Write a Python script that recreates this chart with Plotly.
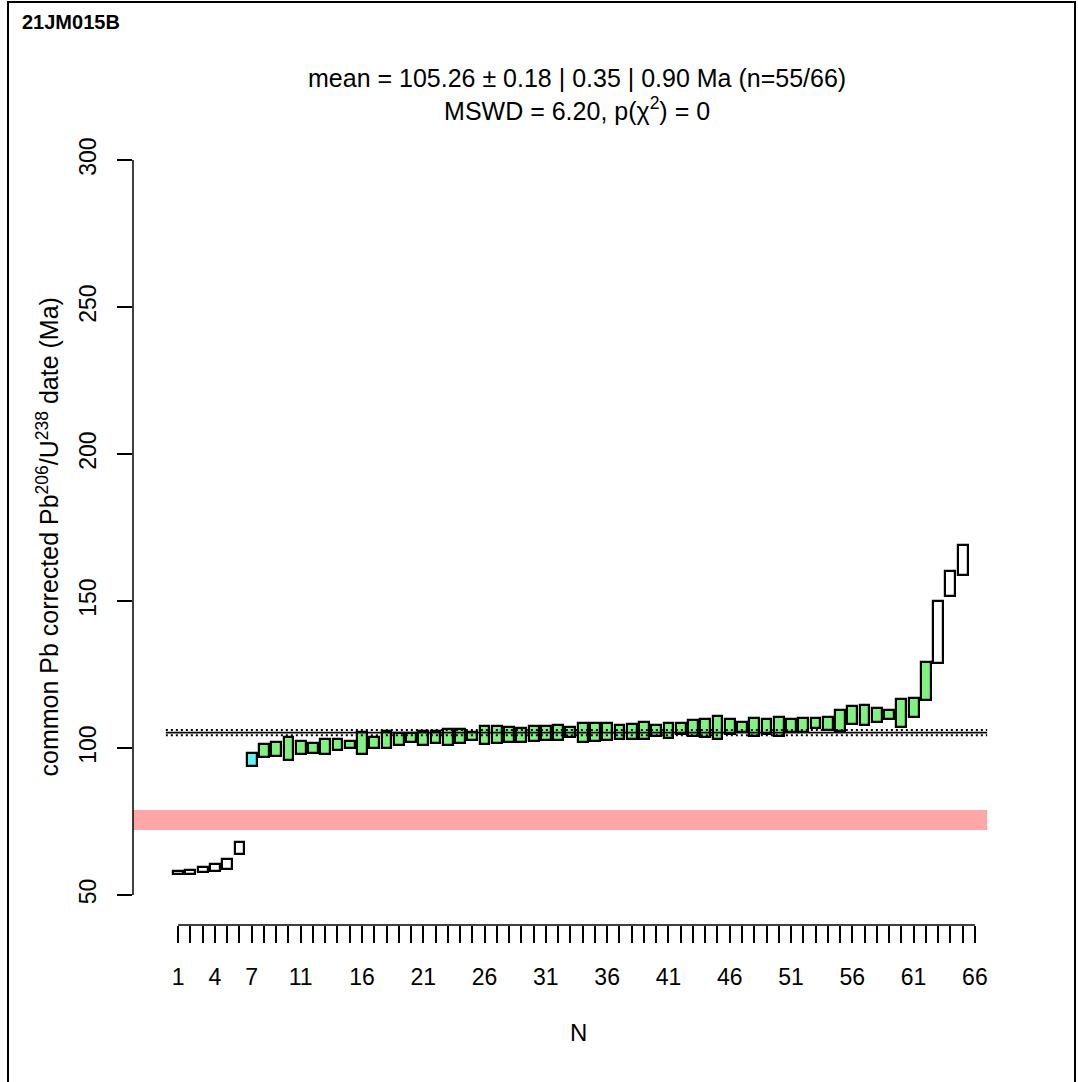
import plotly.graph_objects as go

# ---------------- data ----------------
sample_name = "21JM015B"
N = list(range(1, 67))
date_lo = [57.0, 57.2, 57.9, 58.0, 59.0, 64.1, 93.9, 97.1, 97.3, 96.0,
           97.9, 98.2, 97.9, 99.2, 99.9, 97.9, 99.9, 99.9, 101.0, 101.9,
           101.1, 101.6, 101.1, 101.6, 102.7, 101.3, 101.8, 101.9, 102.2, 102.5,
           102.7, 102.8, 103.6, 102.2, 102.5, 102.7, 103.2, 103.0, 103.0, 104.1,
           103.4, 104.7, 104.1, 103.6, 103.0, 104.7, 105.3, 104.1, 104.7, 104.1,
           105.3, 105.5, 106.7, 106.2, 105.9, 108.1, 107.8, 108.9, 109.8, 107.3,
           110.4, 116.4, 128.9, 151.8, 158.8, None]
date_hi = [58.2, 58.5, 59.4, 60.7, 62.4, 68.1, 98.4, 101.4, 101.9, 103.6,
           102.4, 101.8, 103.1, 103.2, 102.5, 105.6, 103.6, 105.8, 105.0, 105.0,
           105.8, 105.8, 106.4, 106.6, 105.5, 107.5, 107.4, 107.3, 106.9, 107.5,
           107.5, 107.9, 107.3, 108.6, 108.6, 108.6, 107.9, 108.1, 108.9, 107.9,
           108.6, 108.6, 109.6, 109.8, 110.9, 109.8, 109.0, 110.3, 109.8, 110.6,
           109.8, 110.3, 110.3, 110.6, 112.8, 114.3, 114.7, 113.5, 112.8, 116.6,
           117.1, 129.1, 150.0, 160.2, 169.1, None]
excluded = [1, 2, 3, 4, 5, 6, 63, 64, 65, 66]
outliers = [7]
mean_age = 105.26
mean_err = 0.90
band_lo, band_hi = 72.1, 78.9
x_labels = [1, 4, 7, 11, 16, 21, 26, 31, 36, 41, 46, 51, 56, 61, 66]
y_ticks = [50, 100, 150, 200, 250, 300]

# ---------------- styling ----------------
FONT = "Liberation Sans, Arial, sans-serif"
GREEN = "#80f280"
CYAN = "#66f2f2"
PINK = "#ffa7a7"

W, H = 1078, 1082
L, R, T, B = 133, 58, 150, 157
XR = [-2.68, 69.68]
YR = [39.8, 303.4]
PW, PH = W - L - R, H - T - B


def px_to_paper_x(px):
    return (px - L) / PW


def px_to_paper_y(py):
    return (H - B - py) / PH


fills = []
for n in N:
    if n in excluded:
        fills.append("white")
    elif n in outliers:
        fills.append(CYAN)
    else:
        fills.append(GREEN)

heights = [None if (lo is None or hi is None) else hi - lo
           for lo, hi in zip(date_lo, date_hi)]

fig = go.Figure()

# solid mean line (under the boxes)
fig.add_trace(go.Scatter(x=[0, 67], y=[mean_age, mean_age], mode="lines",
                         line=dict(color="black", width=1.8),
                         hoverinfo="skip", showlegend=False))

fig.add_trace(go.Bar(x=N, y=heights, base=date_lo, width=0.8,
                     marker=dict(color=fills, line=dict(color="black", width=2.2)),
                     showlegend=False))

# dotted error lines (over the boxes)
for v in (mean_age - mean_err, mean_age + mean_err):
    fig.add_trace(go.Scatter(x=[0, 67], y=[v, v], mode="lines",
                             line=dict(color="black", width=2, dash="2px,3px"),
                             hoverinfo="skip", showlegend=False))

shapes = [
    # pink band
    dict(type="rect", xref="x", yref="y", x0=XR[0], x1=67, y0=band_lo, y1=band_hi,
         fillcolor=PINK, line=dict(width=0), layer="below"),
    # x axis line (1..66)
    dict(type="line", xref="x", yref="paper", x0=1, x1=66, y0=0, y1=0,
         line=dict(color="black", width=1.5)),
    # y axis line (50..300)
    dict(type="line", xref="paper", yref="y", x0=0, x1=0, y0=y_ticks[0], y1=y_ticks[-1],
         line=dict(color="black", width=1.5)),
    # outer frame
    dict(type="rect", xref="paper", yref="paper",
         x0=px_to_paper_x(8), x1=px_to_paper_x(1075),
         y0=px_to_paper_y(1086), y1=px_to_paper_y(2),
         line=dict(color="black", width=2), fillcolor="rgba(0,0,0,0)"),
]

annotations = [
    dict(text="<b>" + sample_name + "</b>", xref="paper", yref="paper",
         x=px_to_paper_x(20), y=px_to_paper_y(22), xanchor="left", yanchor="middle",
         showarrow=False, font=dict(family=FONT, size=20, color="black")),
    dict(text="mean = 105.26 ± 0.18 | 0.35 | 0.90 Ma (n=55/66)<br>"
              "MSWD = 6.20, p(χ<sup>2</sup>) = 0",
         xref="paper", yref="paper", x=0.5, y=px_to_paper_y(94),
         xanchor="center", yanchor="middle", showarrow=False,
         font=dict(family=FONT, size=25, color="black")),
    dict(text="N", xref="paper", yref="paper", x=px_to_paper_x(578),
         y=px_to_paper_y(1032), xanchor="center", yanchor="middle",
         showarrow=False, font=dict(family=FONT, size=24, color="black")),
    dict(text="common Pb corrected Pb<sup>206</sup>/U<sup>238</sup> date (Ma)",
         xref="paper", yref="paper", x=px_to_paper_x(47), y=0.5, textangle=-90,
         xanchor="center", yanchor="middle", showarrow=False,
         font=dict(family=FONT, size=25, color="black")),
]

fig.update_layout(
    width=W, height=H,
    margin=dict(l=L, r=R, t=T, b=B, pad=0),
    paper_bgcolor="white", plot_bgcolor="white",
    bargap=0,
    shapes=shapes,
    annotations=annotations,
    xaxis=dict(range=XR, showgrid=False, zeroline=False, showline=False,
               tickmode="array", tickvals=x_labels,
               ticks="outside", ticklen=17, tickwidth=1.5, tickcolor="black",
               ticklabelstandoff=14,
               minor=dict(tickmode="array", tickvals=N, ticks="outside",
                          ticklen=17, tickwidth=1.5, tickcolor="black",
                          showgrid=False),
               tickfont=dict(family=FONT, size=23, color="black")),
    yaxis=dict(range=YR, showgrid=False, zeroline=False, showline=False,
               tickmode="array", tickvals=y_ticks,
               ticks="outside", ticklen=15, tickwidth=1.5, tickcolor="black",
               tickangle=-90, ticklabelstandoff=12,
               tickfont=dict(family=FONT, size=23, color="black")),
)

fig.write_html("out.html")
